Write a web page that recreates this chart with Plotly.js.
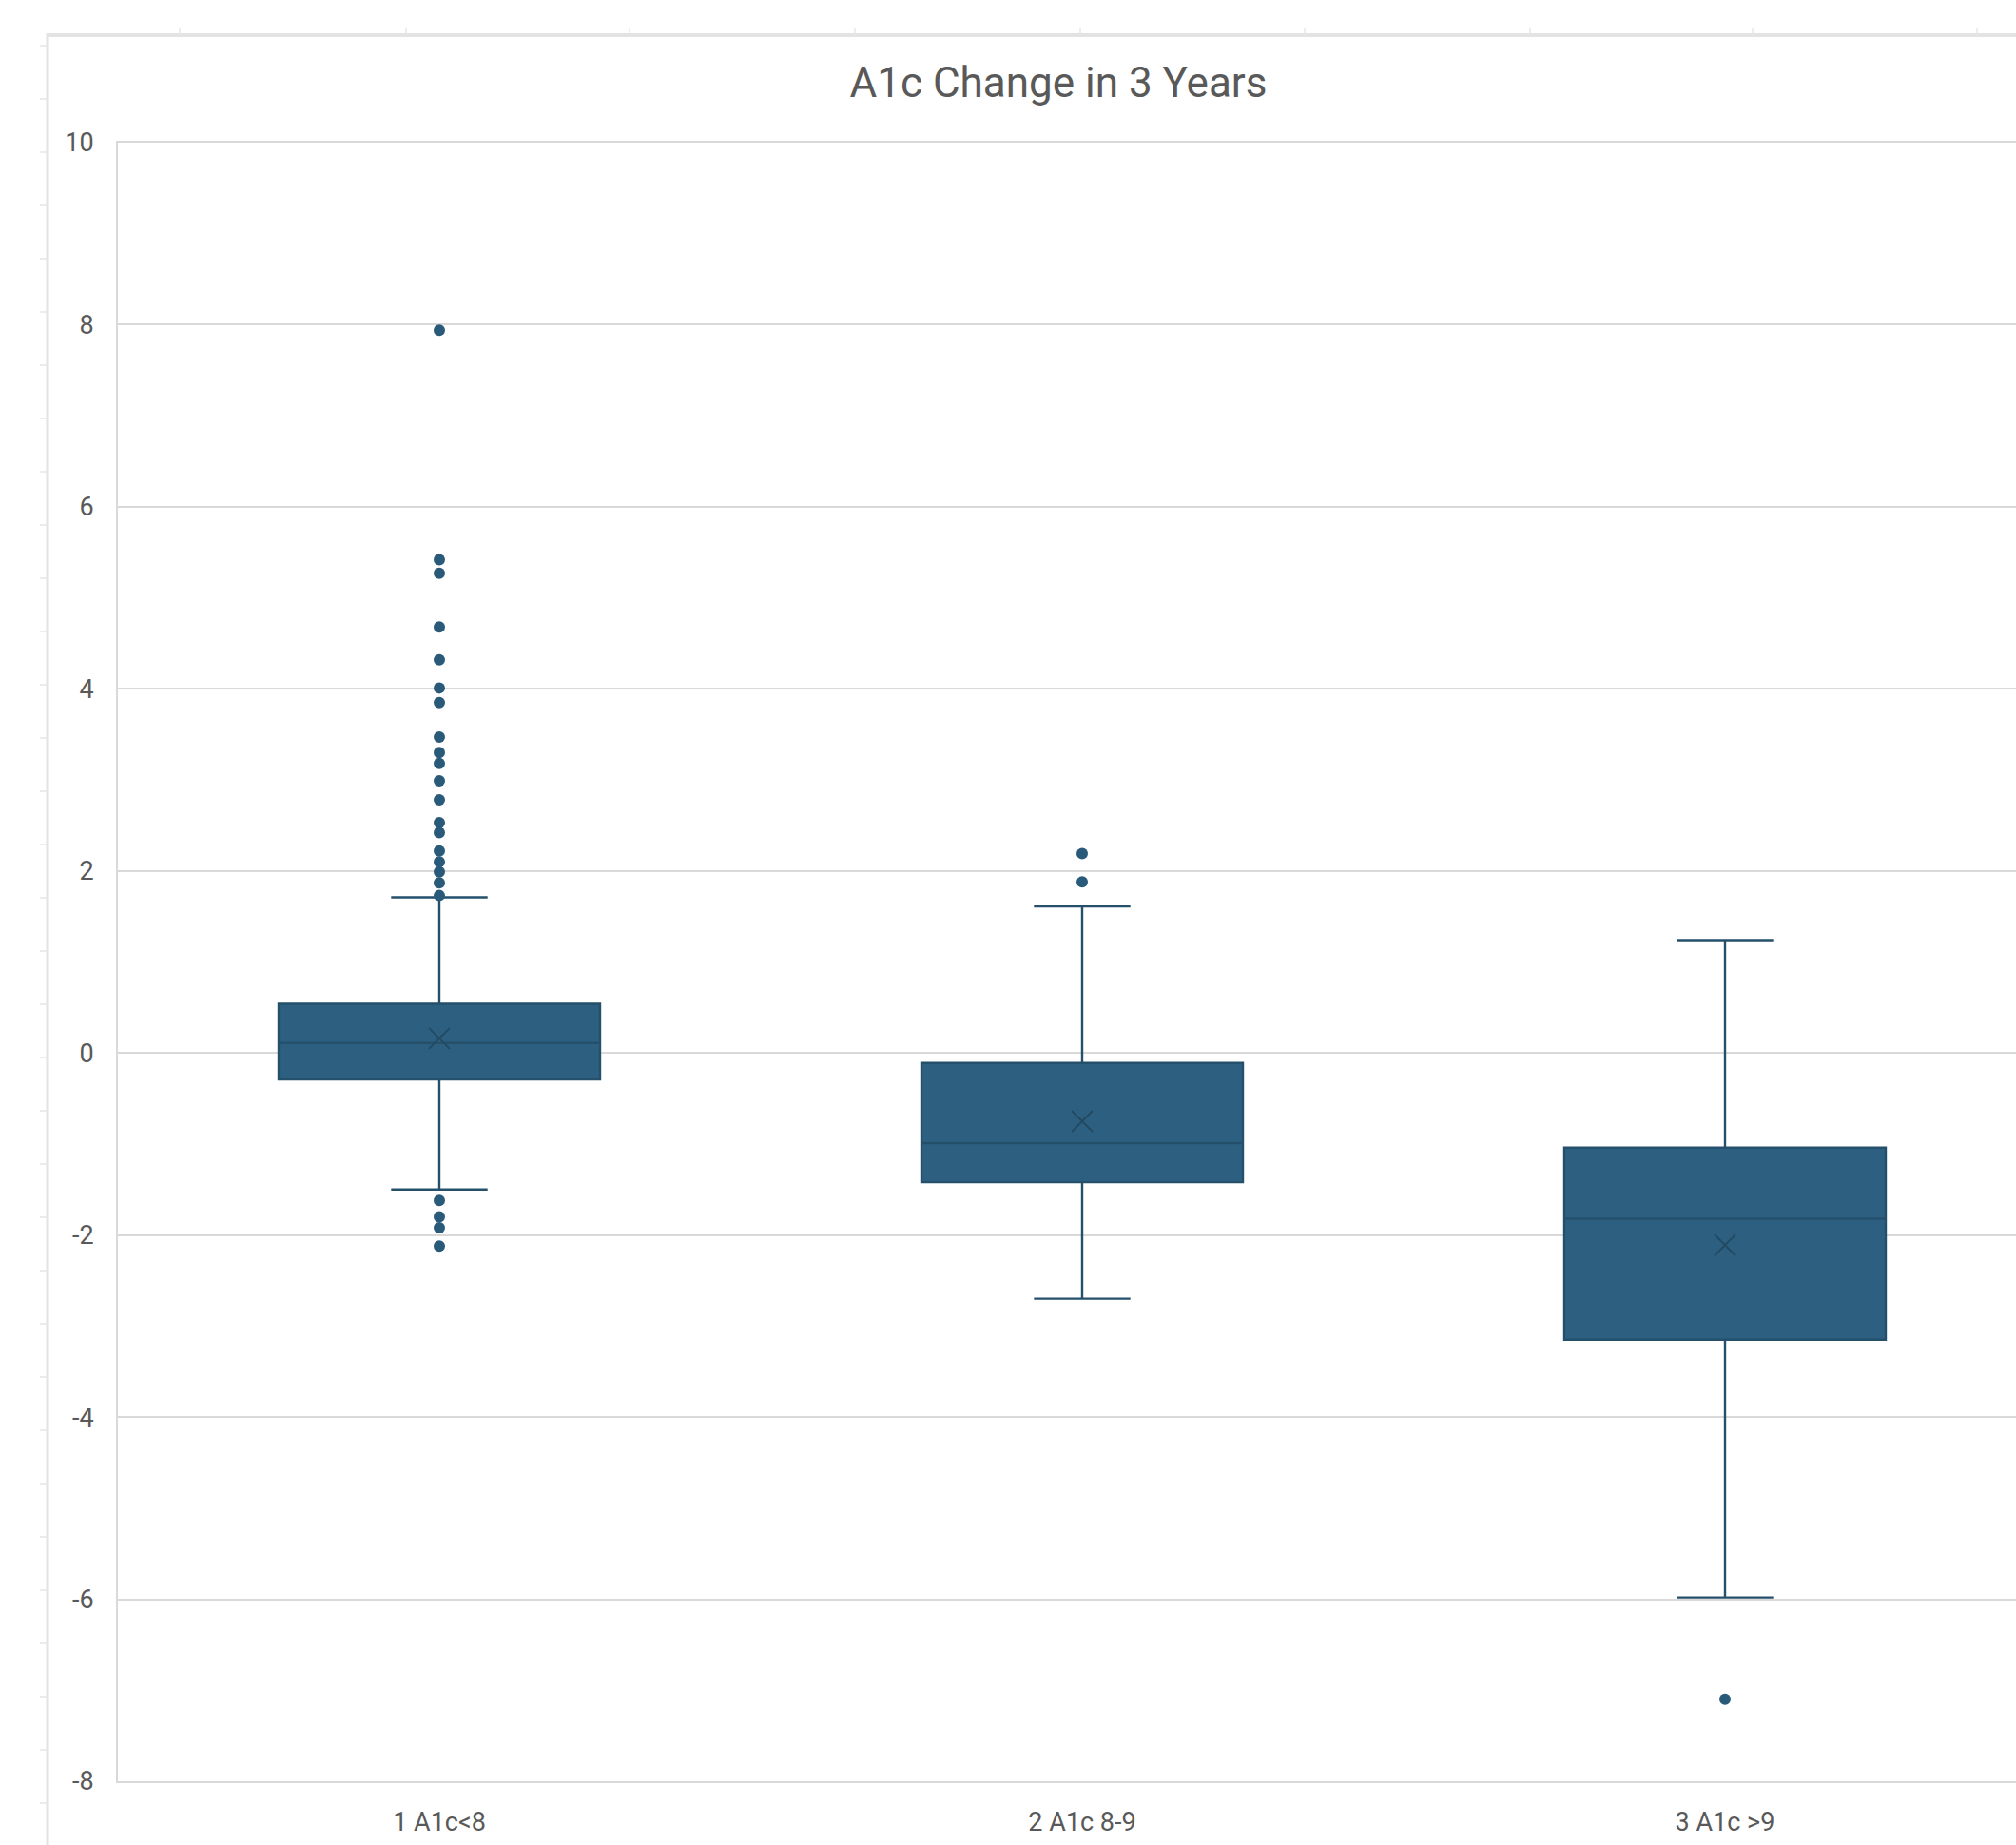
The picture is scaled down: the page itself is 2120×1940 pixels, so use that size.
<!DOCTYPE html>
<html>
<head>
<meta charset="utf-8">
<script src="https://cdn.plot.ly/plotly-3.0.1.min.js"></script>
<style>
  html, body { margin: 0; padding: 0; background: #ffffff; overflow: hidden; }
  #chart { width: 2120px; height: 1940px; }
</style>
</head>
<body>
<div id="chart"></div>
<script>
// ---- data ----
const categories = ["1 A1c<8", "2 A1c 8-9", "3 A1c >9"];
const q1Values     = [-0.29, -1.42, -3.15];
const medianValues = [ 0.11, -0.99, -1.82];
const q3Values     = [ 0.54, -0.11, -1.04];
const lowerWhisker = [-1.50, -2.70, -5.98];
const upperWhisker = [ 1.71,  1.61,  1.24];
const meanValues   = [ 0.16, -0.75, -2.11];
const outliersCat1 = [7.94, 5.42, 5.27, 4.68, 4.32, 4.01, 3.85, 3.47, 3.30, 3.18, 2.99, 2.78,
                      2.53, 2.42, 2.22, 2.10, 1.99, 1.87, 1.73, -1.62, -1.80, -1.92, -2.12];
const outliersCat2 = [2.19, 1.88];
const outliersCat3 = [-7.10];
const yTickValues  = [-8, -6, -4, -2, 0, 2, 4, 6, 8, 10];

// ---- geometry (page pixels) ----
const W = 2120, H = 1940;
const M = {l: 124, r: 0, t: 150, b: 67};
const PW = W - M.l - M.r, PH = H - M.t - M.b;
const px2x = p => (p - M.l) / PW;
const py2y = p => (H - M.b - p) / PH;

const boxColor = '#2d6080';
const lineColor = '#25506b';

const outlierGroups = [outliersCat1, outliersCat2, outliersCat3];
const outX = [], outY = [];
outlierGroups.forEach((g, i) => g.forEach(v => { outX.push(categories[i]); outY.push(v); }));

const traces = [
  {
    type: 'box',
    x: categories,
    q1: q1Values,
    median: medianValues,
    q3: q3Values,
    lowerfence: lowerWhisker,
    upperfence: upperWhisker,
    boxpoints: false,
    width: 0.5,
    whiskerwidth: 0.3,
    fillcolor: boxColor,
    line: {color: lineColor, width: 2.4},
    hoverinfo: 'skip',
    showlegend: false
  },
  {
    type: 'scatter',
    mode: 'markers',
    x: categories,
    y: meanValues,
    marker: {symbol: 'x-thin-open', size: 22, color: '#234a63', line: {color: '#234a63', width: 2}},
    hoverinfo: 'skip',
    showlegend: false
  },
  {
    type: 'scatter',
    mode: 'markers',
    x: outX,
    y: outY,
    marker: {symbol: 'circle', size: 12, color: '#2a5a7a'},
    hoverinfo: 'skip',
    showlegend: false,
    cliponaxis: false
  }
];

// spreadsheet frame decorations
const shapes = [];
const frameColor = '#e3e3e3';
shapes.push({type: 'line', xref: 'paper', yref: 'paper', x0: px2x(50), x1: px2x(W + 5), y0: py2y(37), y1: py2y(37), line: {color: frameColor, width: 4}, layer: 'below'});
shapes.push({type: 'line', xref: 'paper', yref: 'paper', x0: px2x(50), x1: px2x(50), y0: py2y(35), y1: py2y(H + 5), line: {color: frameColor, width: 3}, layer: 'below'});
[189, 427, 662, 899, 1136, 1372, 1609, 1843, 2079].forEach(x => {
  shapes.push({type: 'line', xref: 'paper', yref: 'paper', x0: px2x(x), x1: px2x(x), y0: py2y(29), y1: py2y(37), line: {color: '#e6e6e6', width: 1.5}, layer: 'below'});
});
for (let y = 48; y < H; y += 56) {
  shapes.push({type: 'line', xref: 'paper', yref: 'paper', x0: px2x(42), x1: px2x(50), y0: py2y(y), y1: py2y(y), line: {color: '#e6e6e6', width: 1.5}, layer: 'below'});
}

const layout = {
  width: W,
  height: H,
  margin: M,
  paper_bgcolor: '#ffffff',
  plot_bgcolor: '#ffffff',
  font: {family: 'Roboto, "Open Sans", sans-serif', color: '#595959'},
  title: {
    text: 'A1c Change in 3 Years',
    font: {size: 44, color: '#595959', family: 'Roboto, sans-serif'},
    xref: 'container', x: 1113 / W, xanchor: 'center',
    yref: 'container', y: 1 - 87 / H, yanchor: 'middle'
  },
  xaxis: {
    type: 'category',
    categoryorder: 'array',
    categoryarray: categories,
    range: [-0.5, -0.5 + PW / 676],
    showgrid: false,
    zeroline: false,
    showline: true,
    mirror: true,
    linecolor: '#d9d9d9',
    linewidth: 2,
    ticks: '',
    ticklabelstandoff: 18,
    tickfont: {size: 27, color: '#595959'},
    fixedrange: true
  },
  yaxis: {
    range: [-8, 10],
    tickvals: yTickValues,
    ticktext: yTickValues.map(String),
    showgrid: true,
    gridcolor: '#d9d9d9',
    gridwidth: 2,
    zeroline: false,
    showline: true,
    linecolor: '#d9d9d9',
    linewidth: 2,
    ticks: '',
    ticklabelstandoff: 18,
    tickfont: {size: 27, color: '#595959'},
    fixedrange: true
  },
  shapes: shapes
};

Plotly.newPlot('chart', traces, layout, {staticPlot: true, displayModeBar: false});
</script>
</body>
</html>
